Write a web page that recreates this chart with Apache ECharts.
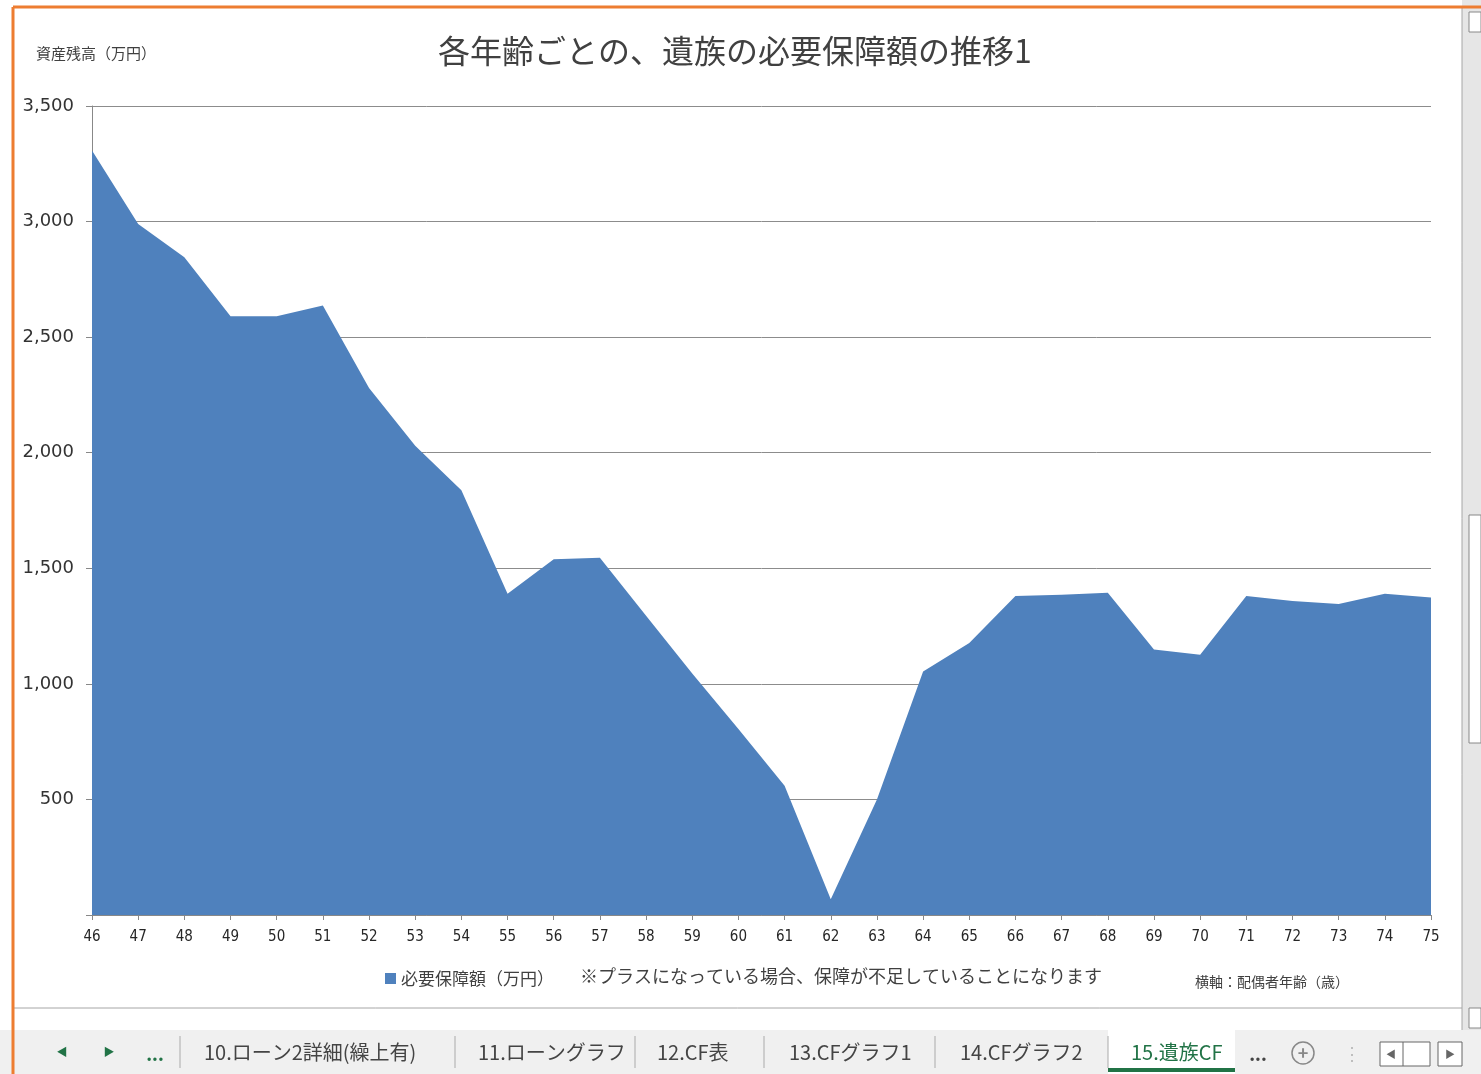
<!DOCTYPE html>
<html>
<head>
<meta charset="utf-8">
<script src="https://cdn.jsdelivr.net/npm/echarts@6/dist/echarts.min.js"></script>
<style>
  html, body { margin: 0; padding: 0; background: #fff; }
  #chart { width: 1481px; height: 1074px; }
</style>
</head>
<body>
<div id="chart"></div>
<script>
// 横軸：配偶者年齢
var ages = ['46', '47', '48', '49', '50', '51', '52', '53', '54', '55',
    '56', '57', '58', '59', '60', '61', '62', '63', '64', '65',
    '66', '67', '68', '69', '70', '71', '72', '73', '74', '75'];
// 必要保障額（万円）
var needs = [3307, 2990, 2846, 2590, 2590, 2637, 2280, 2030, 1838, 1390,
    1539, 1546, 1295, 1045, 805, 559, 68, 500, 1053, 1177,
    1380, 1386, 1394, 1149, 1126, 1380, 1359, 1346, 1390, 1374];
var seriesName = '必要保障額（万円）';
var titleText = '各年齢ごとの、遺族の必要保障額の推移1';
var yName = '資産残高（万円）';
var noteText = '※プラスになっている場合、保障が不足していることになります';
var xNote = '横軸：配偶者年齢（歳）';
var tabs = ['10.ローン2詳細(繰上有)', '11.ローングラフ', '12.CF表', '13.CFグラフ1', '14.CFグラフ2'];
var tabX = [204, 478, 657, 789, 960];
var sepX = [180, 455, 635, 764, 935, 1108];

var chart = echarts.init(document.getElementById('chart'));

var jp = '"Noto Sans CJK JP", "Noto Sans", sans-serif';

// シートタブ部分（飾り）
var deco = [
    {type: 'rect', shape: {x: 0, y: 1030, width: 1481, height: 44}, style: {fill: '#f0f0f0'}, z: -1},
    {type: 'rect', shape: {x: 1462, y: 0, width: 19, height: 1030}, style: {fill: '#e6e6e6'}, z: -1},
    {type: 'line', shape: {x1: 13, y1: 1008, x2: 1462, y2: 1008}, style: {stroke: '#a6a6a6', lineWidth: 1}},
    {type: 'line', shape: {x1: 1462, y1: 7, x2: 1462, y2: 1030}, style: {stroke: '#a6a6a6', lineWidth: 1}},
    {type: 'line', shape: {x1: 13, y1: 7, x2: 1481, y2: 7}, style: {stroke: '#ed7d31', lineWidth: 3}},
    {type: 'line', shape: {x1: 13, y1: 7, x2: 13, y2: 1074}, style: {stroke: '#ed7d31', lineWidth: 3}},
    {type: 'rect', shape: {x: 1469, y: 12, width: 12, height: 20}, style: {fill: '#fff', stroke: '#888'}},
    {type: 'rect', shape: {x: 1469, y: 515, width: 12, height: 228}, style: {fill: '#fff', stroke: '#888'}},
    {type: 'rect', shape: {x: 1469, y: 1008, width: 12, height: 20}, style: {fill: '#fff', stroke: '#888'}},
    {type: 'rect', shape: {x: 1108, y: 1030, width: 127, height: 44}, style: {fill: '#fff'}},
    {type: 'rect', shape: {x: 1108, y: 1068, width: 127, height: 4}, style: {fill: '#217346'}},
    {type: 'text', x: 62, y: 1052, style: {text: '◀', fill: '#217346', font: '11px ' + jp, align: 'center', verticalAlign: 'middle'}},
    {type: 'text', x: 109, y: 1052, style: {text: '▶', fill: '#217346', font: '11px ' + jp, align: 'center', verticalAlign: 'middle'}},
    {type: 'text', x: 155, y: 1054, style: {text: '...', fill: '#217346', font: 'bold 18px ' + jp, align: 'center', verticalAlign: 'middle'}},
    {type: 'text', x: 1131, y: 1052, style: {text: '15.遺族CF', fill: '#217346', font: '20px ' + jp, verticalAlign: 'middle'}},
    {type: 'text', x: 1258, y: 1054, style: {text: '...', fill: '#444', font: 'bold 18px ' + jp, align: 'center', verticalAlign: 'middle'}},
    {type: 'circle', shape: {cx: 1303, cy: 1053, r: 11}, style: {fill: 'none', stroke: '#888', lineWidth: 1.5}},
    {type: 'text', x: 1303, y: 1053, style: {text: '+', fill: '#888', font: 'bold 18px ' + jp, align: 'center', verticalAlign: 'middle'}},
    {type: 'text', x: 1352, y: 1053, style: {text: '⋮', fill: '#bbb', font: '18px ' + jp, align: 'center', verticalAlign: 'middle'}},
    {type: 'rect', shape: {x: 1380, y: 1042, width: 50, height: 24}, style: {fill: '#fff', stroke: '#666'}},
    {type: 'line', shape: {x1: 1403, y1: 1042, x2: 1403, y2: 1066}, style: {stroke: '#666'}},
    {type: 'rect', shape: {x: 1438, y: 1042, width: 24, height: 24}, style: {fill: '#fff', stroke: '#666'}},
    {type: 'text', x: 1391, y: 1054, style: {text: '◀', fill: '#666', font: '10px ' + jp, align: 'center', verticalAlign: 'middle'}},
    {type: 'text', x: 1450, y: 1054, style: {text: '▶', fill: '#666', font: '10px ' + jp, align: 'center', verticalAlign: 'middle'}}
];
tabs.forEach(function (t, i) {
    deco.push({type: 'text', x: tabX[i], y: 1052, style: {text: t, fill: '#444', font: '20px ' + jp, verticalAlign: 'middle'}});
});
sepX.forEach(function (x) {
    deco.push({type: 'line', shape: {x1: x, y1: 1036, x2: x, y2: 1068}, style: {stroke: '#aaa'}});
});
// チャート内の文字
deco.push({type: 'text', x: 36, y: 53, style: {text: yName, fill: '#404040', font: '15px ' + jp, verticalAlign: 'middle'}});
deco.push({type: 'text', x: 580, y: 976, style: {text: noteText, fill: '#404040', font: '18px ' + jp, verticalAlign: 'middle'}});
deco.push({type: 'text', x: 1195, y: 982, style: {text: xNote, fill: '#404040', font: '14px ' + jp, verticalAlign: 'middle'}});

var option = {
    backgroundColor: '#fff',
    animation: false,
    title: {
        text: titleText,
        left: 433,
        top: 30,
        textStyle: {fontFamily: jp, fontSize: 32, fontWeight: 'normal', color: '#404040'}
    },
    legend: {
        left: 380,
        top: 965,
        icon: 'rect',
        itemWidth: 11,
        itemHeight: 11,
        itemGap: 4,
        textStyle: {fontFamily: jp, fontSize: 17, color: '#404040'},
        data: [seriesName]
    },
    grid: {left: 92, right: 50, top: 106, bottom: 159},
    xAxis: {
        type: 'category',
        boundaryGap: false,
        data: ages,
        axisLine: {show: true, lineStyle: {color: '#888'}},
        axisTick: {show: true, length: 5, lineStyle: {color: '#888'}},
        axisLabel: {fontFamily: '"DejaVu Sans Condensed", "DejaVu Sans", sans-serif', fontSize: 15, color: '#262626', margin: 15}
    },
    yAxis: {
        type: 'value',
        min: 0,
        max: 3500,
        interval: 500,
        axisLine: {show: true, lineStyle: {color: '#888'}},
        axisTick: {show: true, length: 6, lineStyle: {color: '#888'}},
        splitLine: {lineStyle: {color: '#8c8c8c', width: 1}},
        axisLabel: {
            fontFamily: '"DejaVu Sans", sans-serif',
            fontSize: 18,
            color: '#333',
            margin: 18,
            formatter: function (v) {
                return v === 0 ? '' : v.toLocaleString('en-US');
            }
        }
    },
    series: [{
        name: seriesName,
        type: 'line',
        data: needs,
        symbol: 'none',
        lineStyle: {width: 0},
        areaStyle: {color: '#4f81bd', opacity: 1},
        itemStyle: {color: '#4f81bd'}
    }],
    graphic: deco
};
chart.setOption(option);
</script>
</body>
</html>
